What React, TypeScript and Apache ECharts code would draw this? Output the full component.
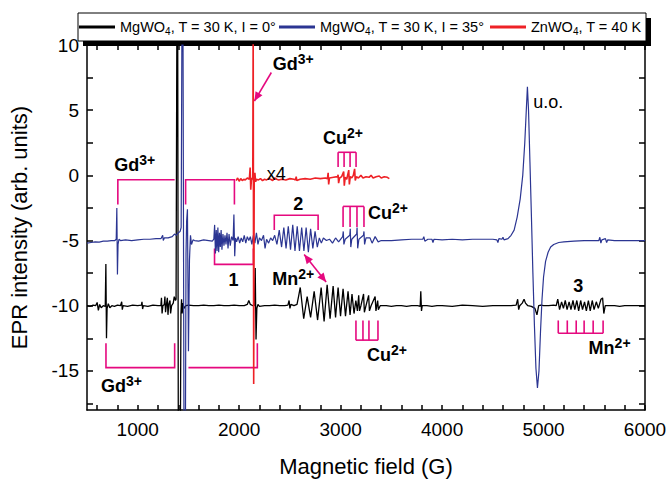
import React, { useEffect, useRef } from "react";
import * as echarts from "echarts";

const FONT = "'Liberation Sans', Arial, Helvetica, sans-serif";
const MAG = "#e5097f";
const BLACK = "#000000";
const BLUE = "#2b3592";
const RED = "#ee2126";

const seriesNames = ["MgWO4, T = 30 K, I = 0°", "MgWO4, T = 30 K, I = 35°", "ZnWO4, T = 40 K"];

const xLabelTicks = [1000, 2000, 3000, 4000, 5000, 6000];
const xAllTicks = [600, 800, 1000, 1200, 1400, 1600, 1800, 2000, 2200, 2400, 2600, 2800, 3000, 3200, 3400, 3600, 3800, 4000, 4200, 4400, 4600, 4800, 5000, 5200, 5400, 5600, 5800, 6000];
const yLabelTicks = [-15, -10, -5, 0, 5, 10];
const yAllTicks = [-17.5, -15, -12.5, -10, -7.5, -5, -2.5, 0, 2.5, 5, 7.5, 10];

// MgWO4, I = 0 deg (black)
const blackSpectrum: number[][] = [
  [500, -10.0], [530, -10.05], [560, -9.95], [585, -10.0], [600, -9.75], [612, -10.35], [625, -9.9], [640, -10.15], [660, -10.0], [680, -10.05],
  [686, -6.8], [692, -12.5], [698, -10.2], [710, -9.85], [725, -10.15], [745, -10.0], [770, -10.05], [800, -9.95], [830, -10.0],
  [842, -9.7], [848, -10.3], [856, -10.0], [900, -10.05], [950, -9.95], [1000, -10.0], [1036, -9.95], [1042, -9.7], [1048, -10.25], [1056, -10.0],
  [1100, -10.05], [1150, -9.95], [1200, -10.0], [1228, -10.0], [1234, -9.4], [1240, -10.6], [1248, -10.0], [1262, -9.9], [1268, -9.3], [1274, -10.5],
  [1282, -9.95], [1292, -9.4], [1298, -10.7], [1306, -9.9], [1318, -9.6], [1324, -10.6], [1334, -10.0], [1350, -9.8], [1360, -9.3], [1372, -9.6],
  [1378, -9.5], [1386, 12], [1394, 12], [1400, -20], [1420, -20], [1426, -10.6], [1432, -9.5], [1438, -10.6], [1446, -9.8], [1456, -10.2], [1475, -10.0],
  [1500, -9.95], [1550, -10.0], [1600, -10.0], [1650, -9.95], [1700, -10.0], [1750, -10.0], [1800, -9.95], [1850, -10.0], [1900, -10.0], [1950, -9.95],
  [2000, -10.0], [2050, -10.0], [2080, -9.9], [2095, -9.6], [2110, -9.9], [2135, -10.0], [2150, -10.0], [2158, -7.1], [2166, -12.6], [2174, -10.2],
  [2185, -9.9], [2200, -10.05], [2250, -10.0], [2300, -10.0], [2350, -9.95], [2400, -10.0], [2450, -10.0], [2480, -9.95], [2492, -9.6], [2500, -10.2],
  [2510, -9.9], [2540, -10.0], [2570, -9.9], [2585, -9.3],
  [2602, -8.6], [2636, -11.0], [2670, -9.3], [2704, -10.9], [2739, -8.9], [2773, -11.1], [2808, -8.6], [2837, -11.2], [2867, -8.4], [2896, -11.0],
  [2926, -8.5], [2950, -10.9], [2975, -8.6], [2999, -10.8], [3024, -8.7], [3048, -10.8], [3073, -8.9], [3093, -10.7], [3112, -9.1], [3132, -10.6],
  [3150, -9.6], [3165, -10.4], [3178, -9.2], [3186, -10.4], [3200, -10.0], [3226, -9.1], [3234, -10.5], [3250, -10.0], [3276, -9.2], [3284, -10.4],
  [3300, -10.0], [3340, -9.3], [3348, -10.4], [3365, -9.6], [3372, -10.3], [3390, -10.0],
  [3450, -10.0], [3500, -10.05], [3550, -10.0], [3600, -10.0], [3650, -10.05], [3700, -10.0], [3760, -10.0], [3784, -10.05], [3790, -8.9], [3797, -10.4],
  [3804, -10.0], [3850, -10.0], [3900, -10.05], [3950, -10.0], [4000, -10.0], [4100, -10.05], [4200, -9.95], [4300, -10.0], [4400, -10.05], [4500, -10.0],
  [4600, -10.0], [4680, -10.0], [4730, -9.95], [4745, -9.5], [4755, -10.3], [4765, -10.0], [4790, -9.8], [4808, -9.5], [4822, -9.8], [4845, -10.0],
  [4880, -10.05], [4915, -10.2], [4935, -10.7], [4952, -10.0], [4975, -9.95], [5000, -10.0], [5050, -10.0], [5100, -9.95], [5125, -10.0],
  [5140, -9.5], [5158, -10.3], [5178, -9.7], [5196, -10.2], [5214, -9.6], [5232, -10.3], [5252, -9.7], [5270, -10.3], [5290, -9.6], [5308, -10.3],
  [5328, -9.6], [5346, -10.4], [5366, -9.6], [5384, -10.3], [5404, -9.7], [5422, -10.4], [5442, -9.6], [5460, -10.4], [5480, -9.6], [5498, -10.3],
  [5520, -9.7], [5540, -10.2], [5566, -9.5], [5582, -9.4], [5594, -10.6], [5608, -10.0],
  [5650, -10.0], [5700, -10.0], [5750, -10.05], [5800, -10.0], [5850, -10.0], [5900, -10.0], [5950, -10.0], [6000, -10.0],
];

// MgWO4, I = 35 deg (blue)
const blueSpectrum: number[][] = [
  [500, -5.2], [540, -5.15], [580, -5.1], [620, -5.12], [660, -5.05], [700, -5.05], [740, -5.0], [775, -5.0], [788, -4.9], [794, -2.5],
  [800, -7.6], [806, -5.3], [815, -4.9], [830, -5.0], [880, -4.95], [940, -5.0], [1000, -4.95], [1060, -4.9], [1120, -4.9], [1180, -4.85],
  [1230, -4.85], [1246, -4.6], [1252, -5.0], [1262, -4.8], [1300, -4.8], [1340, -4.7], [1362, -4.5], [1380, -4.6], [1400, -4.4], [1418, -4.3],
  [1428, -4.0], [1436, 12], [1446, 12], [1456, -20], [1470, -20], [1476, -6], [1482, -3.5], [1490, -2.6], [1500, -13.5], [1510, -6.5],
  [1520, -4.6], [1530, -5.3], [1545, -4.95], [1560, -5.0], [1600, -5.05], [1650, -4.95], [1700, -5.0], [1735, -5.05],
  [1750, -4.9], [1758, -3.8], [1766, -6.0], [1774, -4.2], [1782, -5.8], [1790, -4.0], [1798, -5.9], [1806, -4.4], [1814, -5.5], [1822, -4.2],
  [1830, -5.7], [1840, -4.5], [1850, -5.4], [1860, -4.6], [1870, -5.3], [1880, -4.4], [1890, -5.6], [1900, -4.5], [1912, -5.4], [1925, -4.7],
  [1940, -5.0], [1948, -3.0], [1956, -6.2], [1964, -4.8], [1975, -5.1], [1990, -4.7], [2005, -5.2], [2020, -4.8], [2035, -5.1], [2050, -4.6],
  [2065, -5.2], [2080, -4.7], [2095, -5.0], [2110, -4.7], [2125, -5.3], [2140, -4.6], [2155, -5.2], [2170, -4.4], [2185, -5.3], [2200, -4.8],
  [2220, -5.0], [2240, -4.6], [2255, -5.6], [2270, -4.9], [2290, -5.2], [2310, -4.8], [2330, -5.0],
  [2350, -4.6], [2372, -5.3], [2395, -4.2], [2418, -5.5], [2440, -4.0], [2462, -5.6], [2484, -3.9], [2506, -5.7], [2528, -3.8], [2550, -5.8],
  [2572, -3.9], [2594, -5.8], [2616, -4.0], [2638, -5.8], [2660, -4.0], [2682, -5.9], [2704, -4.1], [2726, -5.6], [2748, -4.3], [2770, -5.5],
  [2790, -4.8], [2810, -5.2], [2830, -4.8], [2860, -5.0], [2890, -4.9], [2920, -5.2], [2950, -4.8], [2980, -5.1],
  [3020, -4.7], [3026, -4.3], [3032, -5.3], [3045, -4.9], [3090, -4.6], [3095, -4.1], [3100, -5.5], [3110, -4.9], [3158, -4.5], [3162, -4.0],
  [3168, -5.6], [3180, -4.9], [3225, -4.6], [3230, -4.3], [3236, -5.3], [3250, -4.8], [3290, -4.8], [3310, -5.2], [3340, -4.7], [3370, -5.1],
  [3400, -5.0], [3500, -5.0], [3600, -4.95], [3700, -4.9], [3810, -4.9], [3820, -4.7], [3830, -5.05], [3860, -4.9], [3900, -4.9], [3910, -5.15],
  [3920, -4.9], [4000, -4.95], [4100, -4.9], [4200, -4.95], [4300, -4.9], [4400, -4.9], [4500, -4.9], [4540, -4.95], [4550, -5.15], [4560, -4.85],
  [4590, -4.9], [4600, -4.75], [4610, -4.95], [4650, -4.85], [4680, -4.6], [4710, -4.2], [4740, -3.2], [4770, -1.8], [4795, 0.0], [4815, 2.5],
  [4830, 5.0], [4841, 6.8], [4852, 5.0], [4866, 1.0], [4880, -3.0], [4895, -7.5], [4910, -11.5], [4925, -14.8], [4940, -16.3], [4955, -15.0],
  [4970, -12.0], [4985, -9.5], [5000, -7.8], [5020, -6.6], [5045, -5.9], [5070, -5.5], [5100, -5.3], [5150, -5.15], [5200, -5.1], [5300, -5.05],
  [5400, -5.0], [5500, -5.0], [5545, -5.0], [5555, -4.75], [5565, -5.2], [5575, -4.95], [5610, -4.85], [5622, -5.15], [5632, -4.95], [5700, -5.0],
  [5800, -5.0], [5900, -5.0], [6000, -5.0],
];

// ZnWO4, T = 40 K (red, x4)
const redSpectrum: number[][] = [
  [1970, -0.4], [1985, -0.2], [2000, -0.45], [2015, -0.25], [2030, -0.4], [2045, -0.3], [2060, -0.35], [2080, -0.2], [2100, -0.3], [2108, 0.6],
  [2114, -1.1], [2122, -0.2], [2134, -0.3], [2138, 12], [2143, -16], [2148, -0.6], [2155, 0.2], [2162, -0.5], [2170, -0.3], [2190, -0.35],
  [2210, -0.25], [2230, -0.4], [2250, -0.3], [2270, -0.35], [2290, -0.25], [2310, -0.3], [2330, -0.4], [2350, -0.2], [2370, -0.3], [2390, -0.35],
  [2420, -0.3], [2460, -0.35], [2500, -0.25], [2540, -0.3], [2555, -0.35], [2562, -0.1], [2568, -0.4], [2600, -0.3], [2650, -0.25], [2700, -0.3],
  [2750, -0.2], [2800, -0.25], [2850, -0.2], [2870, -0.25], [2877, 0.2], [2882, -0.7], [2890, -0.2], [2930, -0.15], [2970, -0.1], [2975, 0.05],
  [2980, -0.6], [2990, -0.2], [3010, -0.1], [3030, 0.3], [3036, -0.8], [3045, -0.15], [3060, -0.3], [3080, 0.4], [3086, -0.7], [3095, -0.1],
  [3110, -0.2], [3125, 0.0], [3138, 0.5], [3144, -0.4], [3155, -0.1], [3175, -0.2], [3200, 0.0], [3220, -0.2], [3250, -0.1], [3280, -0.15],
  [3300, 0.0], [3320, -0.2], [3350, -0.1], [3380, -0.05], [3400, -0.2], [3430, -0.1], [3460, -0.15], [3480, -0.25],
];

// Annotations in data coordinates [field, intensity]
const gdTopLeftBracketA = [[804, -2.23], [804, -0.34], [1364, -0.34]];
const gdTopLeftBracketB = [[1472, -2.23], [1472, -0.34], [1953, -0.34], [1953, -2.23]];
const bracket1 = [[1757, -5.62], [1757, -6.83], [2140, -6.83], [2140, -5.62]];
const bracket2 = [[2346, -4.19], [2346, -3.06], [2778, -3.06], [2778, -4.19]];
const gdLowBracketA = [[687, -12.87], [687, -14.75], [1364, -14.75], [1364, -12.87]];
const gdLowBracketB = [[1500, -14.75], [2179, -14.75], [2179, -12.87]];
const cuBlueComb = { xs: [3024, 3093, 3161, 3230], base: -2.38, tip: -3.96 };
const cuRedComb = { xs: [2975, 3034, 3093, 3152], base: 1.77, tip: 0.64 };
const cuBlackComb = { xs: [3151, 3220, 3279, 3368], base: -12.64, tip: -11.13 };
const mnComb = { xs: [5145, 5234, 5322, 5400, 5489, 5587], base: -12.11, tip: -11.13 };
const gdArrow = { from: [2317, 7.89], to: [2150, 5.7] };
const mnArrow = { from: [2641, -6.08], to: [2857, -8.19] };

const labels = [
  { text: "Gd{s|3+}", at: [971, 0.79], align: "center", bold: true },
  { text: "Gd{s|3+}", at: [2533, 8.53], align: "center", bold: true },
  { text: "Gd{s|3+}", at: [839, -16.19], align: "center", bold: true },
  { text: "Cu{s|2+}", at: [3024, 2.9], align: "center", bold: true },
  { text: "Cu{s|2+}", at: [3269, -2.9], align: "left", bold: true },
  { text: "Cu{s|2+}", at: [3456, -13.77], align: "center", bold: true },
  { text: "Mn{s|2+}", at: [2533, -7.96], align: "center", bold: true },
  { text: "Mn{s|2+}", at: [5651, -13.25], align: "center", bold: true },
  { text: "1", at: [1944, -8.0], align: "center", bold: true },
  { text: "2", at: [2582, -2.23], align: "center", bold: true },
  { text: "3", at: [5341, -8.49], align: "center", bold: true },
  { text: "x4", at: [2366, 0.11], align: "center", bold: false },
  { text: "u.o.", at: [4899, 5.62], align: "left", bold: false },
];

export default function App() {
  const ref = useRef<HTMLDivElement>(null);

  useEffect(() => {
    document.body.style.margin = "0";
    if (!ref.current) return;
    const chart = echarts.init(ref.current, undefined, { renderer: "svg" });

    const axisLineStyle = { color: "#000", width: 1.5 };
    const legendText = {
      fontSize: 14.5,
      fontFamily: FONT,
      color: "#000",
      lineHeight: 18,
      rich: {
        sub: { fontSize: 10, fontFamily: FONT, color: "#000", verticalAlign: "bottom", lineHeight: 10 },
      },
    };
    const legendFmt = (name: string) => name.replace("WO4", "WO{sub|4}");
    const mkLegend = (name: string, left: number) => ({
      data: [name],
      left,
      top: 18,
      itemWidth: 36,
      itemHeight: 3,
      icon: "rect",
      padding: 0,
      selectedMode: false,
      textStyle: legendText,
      formatter: legendFmt,
      z: 5,
    });

    const lineSeries = (name: string, data: number[][], color: string, width: number) => ({
      name,
      type: "line",
      data,
      showSymbol: false,
      symbol: "none",
      clip: true,
      xAxisIndex: 0,
      yAxisIndex: 0,
      color,
      itemStyle: { color },
      lineStyle: { color, width },
    });

    const plain = (v: number) => String(v);

    const option: any = {
      animation: false,
      grid: { left: 85, right: 25, top: 45, bottom: 66 },
      legend: [mkLegend(seriesNames[0], 79), mkLegend(seriesNames[1], 279), mkLegend(seriesNames[2], 490)],
      xAxis: [
        {
          type: "value",
          min: 500,
          max: 6000,
          position: "bottom",
          axisLine: { show: true, onZero: false, lineStyle: axisLineStyle },
          axisTick: { show: true, inside: true, length: 5, customValues: xAllTicks, lineStyle: axisLineStyle },
          axisLabel: { customValues: xLabelTicks, formatter: plain, fontSize: 19, color: "#000", fontFamily: FONT, margin: 10 },
          splitLine: { show: false },
          name: "Magnetic field (G)",
          nameLocation: "middle",
          nameGap: 45,
          nameTextStyle: { fontSize: 22, fontFamily: FONT, color: "#000" },
        },
        {
          type: "value",
          min: 500,
          max: 6000,
          position: "top",
          axisLine: { show: true, onZero: false, lineStyle: axisLineStyle },
          axisTick: { show: true, inside: true, length: 5, customValues: xAllTicks, lineStyle: axisLineStyle },
          axisLabel: { show: false },
          splitLine: { show: false },
        },
      ],
      yAxis: [
        {
          type: "value",
          min: -18,
          max: 10,
          position: "left",
          axisLine: { show: true, onZero: false, lineStyle: axisLineStyle },
          axisTick: { show: true, inside: true, length: 6, customValues: yAllTicks, lineStyle: axisLineStyle },
          axisLabel: { customValues: yLabelTicks, formatter: plain, fontSize: 19, color: "#000", fontFamily: FONT, margin: 8 },
          splitLine: { show: false },
          name: "EPR intensity (arb. units)",
          nameLocation: "middle",
          nameGap: 57,
          nameTextStyle: { fontSize: 22, fontFamily: FONT, color: "#000" },
        },
        {
          type: "value",
          min: -18,
          max: 10,
          position: "right",
          axisLine: { show: true, onZero: false, lineStyle: axisLineStyle },
          axisTick: { show: true, inside: true, length: 6, customValues: yAllTicks, lineStyle: axisLineStyle },
          axisLabel: { show: false },
          splitLine: { show: false },
        },
      ],
      series: [
        lineSeries(seriesNames[0], blackSpectrum, BLACK, 1.3),
        lineSeries(seriesNames[1], blueSpectrum, BLUE, 1.2),
        lineSeries(seriesNames[2], redSpectrum, RED, 1.6),
      ],
    };

    chart.setOption(option);

    const P = (p: number[]) => chart.convertToPixel({ xAxisIndex: 0, yAxisIndex: 0 }, p) as number[];
    const els: any[] = [];
    // legend box with hard shadow
    els.push({ type: "rect", z: 3, silent: true, shape: { x: 83, y: 18, width: 568, height: 28 }, style: { fill: "#000" } });
    els.push({ type: "rect", z: 3, silent: true, shape: { x: 78, y: 13, width: 568, height: 28 }, style: { fill: "#fff", stroke: "#000", lineWidth: 1 } });

    const poly = (pts: number[][]) =>
      els.push({ type: "polyline", z: 1, silent: true, shape: { points: pts.map(P) }, style: { stroke: MAG, lineWidth: 1.6, fill: null } });
    const comb = (c: { xs: number[]; base: number; tip: number }) => {
      poly([[c.xs[0], c.base], [c.xs[c.xs.length - 1], c.base]]);
      c.xs.forEach((x) => poly([[x, c.base], [x, c.tip]]));
    };
    const head = (tip: number[], from: number[]) => {
      const dx = tip[0] - from[0];
      const dy = tip[1] - from[1];
      const len = Math.hypot(dx, dy) || 1;
      const ux = dx / len;
      const uy = dy / len;
      const L = 9;
      const W = 4;
      const bx = tip[0] - ux * L;
      const by = tip[1] - uy * L;
      els.push({
        type: "polygon",
        z: 1,
        silent: true,
        shape: { points: [tip, [bx - uy * W, by + ux * W], [bx + uy * W, by - ux * W]] },
        style: { fill: MAG },
      });
    };
    const arrow = (a: { from: number[]; to: number[] }, both: boolean) => {
      const f = P(a.from);
      const t = P(a.to);
      els.push({ type: "line", z: 1, silent: true, shape: { x1: f[0], y1: f[1], x2: t[0], y2: t[1] }, style: { stroke: MAG, lineWidth: 1.6 } });
      head(t, f);
      if (both) head(f, t);
    };

    poly(gdTopLeftBracketA);
    poly(gdTopLeftBracketB);
    poly(bracket1);
    poly(bracket2);
    poly(gdLowBracketA);
    poly(gdLowBracketB);
    comb(cuBlueComb);
    comb(cuRedComb);
    comb(cuBlackComb);
    comb(mnComb);
    arrow(gdArrow, false);
    arrow(mnArrow, true);

    labels.forEach((l) => {
      const p = P(l.at);
      els.push({
        type: "text",
        z: 4,
        silent: true,
        x: p[0],
        y: p[1],
        style: {
          text: l.text,
          fill: "#000",
          fontSize: 18,
          fontWeight: l.bold ? "bold" : "normal",
          fontFamily: FONT,
          align: l.align,
          verticalAlign: "middle",
          lineHeight: 24,
          rich: {
            s: { fontSize: 14, fontWeight: "bold", fontFamily: FONT, fill: "#000", verticalAlign: "top", lineHeight: 13 },
          },
        },
      });
    });

    chart.setOption({ graphic: { elements: els } });

    return () => chart.dispose();
  }, []);

  return <div ref={ref} style={{ width: 670, height: 482 }} />;
}
